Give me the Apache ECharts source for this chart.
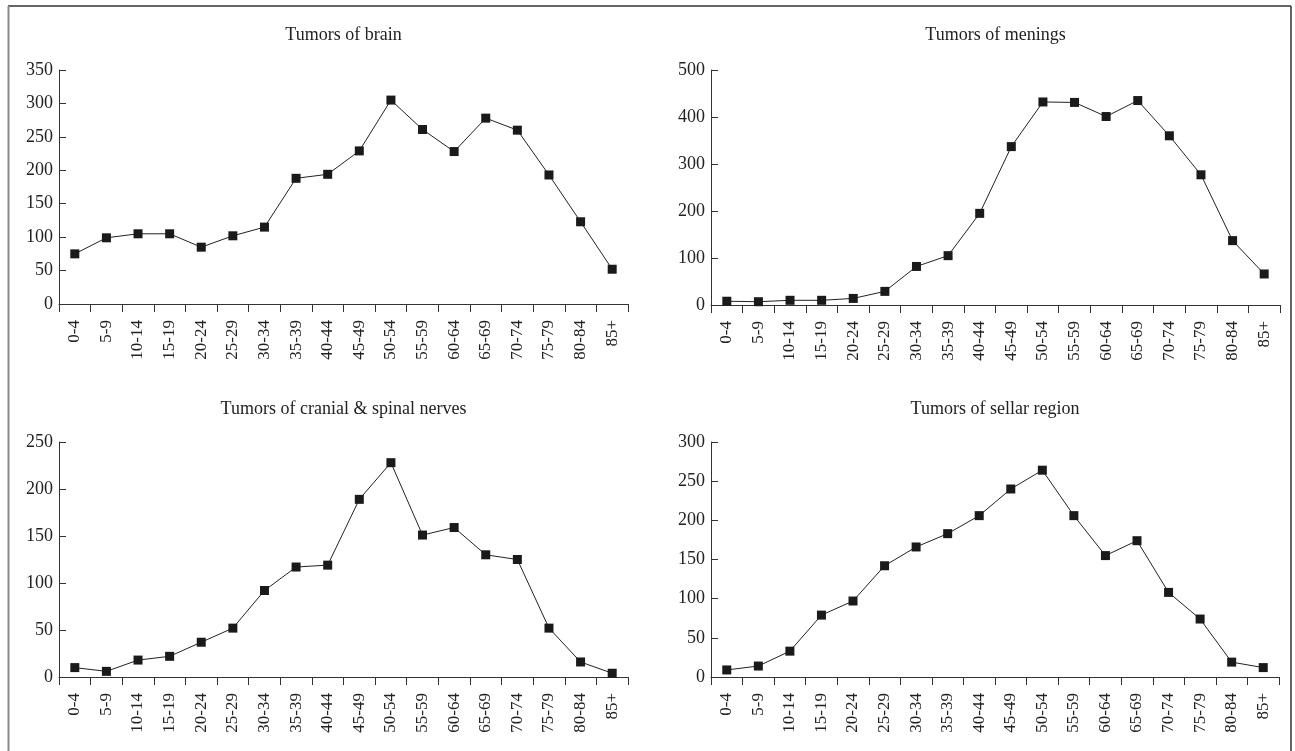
<!DOCTYPE html>
<html>
<head>
<meta charset="utf-8">
<script src="https://cdn.jsdelivr.net/npm/echarts@6/dist/echarts.min.js"></script>
<style>
html,body{margin:0;padding:0;background:#fff;}
#chart{width:1295px;height:751px;}
</style>
</head>
<body>
<div id="chart"></div>
<script>
const ageGroups = ['0-4','5-9','10-14','15-19','20-24','25-29','30-34','35-39','40-44','45-49','50-54','55-59','60-64','65-69','70-74','75-79','80-84','85+'];
const brainValues = [75, 99, 105, 105, 85, 102, 115, 188, 194, 229, 305, 261, 228, 278, 260, 193, 123, 52];
const meningesValues = [8, 7, 10, 10, 14, 29, 82, 105, 195, 337, 432, 431, 401, 435, 360, 277, 137, 66];
const nervesValues = [10, 6, 18, 22, 37, 52, 92, 117, 119, 189, 228, 151, 159, 130, 125, 52, 16, 4];
const sellarValues = [9, 14, 33, 79, 97, 142, 166, 183, 206, 240, 264, 206, 155, 174, 108, 74, 19, 12];
const panelTitles = ['Tumors of brain', 'Tumors of menings', 'Tumors of cranial & spinal nerves', 'Tumors of sellar region'];
const yMax = [350, 500, 250, 300];
const yStep = [50, 100, 50, 50];
const panelData = [brainValues, meningesValues, nervesValues, sellarValues];

const FONT = '"Liberation Serif", "DejaVu Serif", serif';
const INK = '#222';
const grids = [
  {left: 59, top: 70, width: 569, height: 234},
  {left: 711, top: 70, width: 569, height: 235},
  {left: 59, top: 442, width: 569, height: 235},
  {left: 711, top: 442, width: 568, height: 235}
];
const titleTops = [26, 26, 400, 400];

const chart = echarts.init(document.getElementById('chart'), null, {renderer: 'canvas'});
const option = {
  backgroundColor: '#fff',
  animation: false,
  title: panelTitles.map((t, i) => ({
    text: t,
    left: grids[i].left + grids[i].width / 2,
    top: titleTops[i],
    textAlign: 'center',
    padding: 0,
    textStyle: {fontFamily: FONT, fontWeight: 'normal', fontSize: 18, color: INK}
  })),
  grid: grids.map(g => Object.assign({containLabel: false}, g)),
  xAxis: grids.map((g, i) => ({
    type: 'category',
    gridIndex: i,
    data: ageGroups,
    boundaryGap: true,
    axisLine: {lineStyle: {color: '#333', width: 1}},
    axisTick: {show: true, interval: 0, length: 8, lineStyle: {color: '#333'}},
    axisLabel: {interval: 0, rotate: 90, margin: 16, fontFamily: FONT, fontSize: 17, color: INK},
    splitLine: {show: false}
  })),
  yAxis: grids.map((g, i) => ({
    type: 'value',
    gridIndex: i,
    min: 0,
    max: yMax[i],
    interval: yStep[i],
    axisLine: {show: true, lineStyle: {color: '#333', width: 1}},
    axisTick: {show: true, inside: true, length: 7, lineStyle: {color: '#333'}},
    axisLabel: {margin: 6, fontFamily: FONT, fontSize: 18, color: INK},
    splitLine: {show: false}
  })),
  series: panelData.map((d, i) => ({
    type: 'line',
    xAxisIndex: i,
    yAxisIndex: i,
    data: d,
    symbol: 'rect',
    symbolSize: 9,
    showAllSymbol: true,
    lineStyle: {color: '#222', width: 1},
    itemStyle: {color: '#1a1a1a', borderWidth: 0}
  })),
  graphic: [
    {type: 'line', shape: {x1: 8, y1: 6, x2: 1291, y2: 6}, style: {stroke: '#333', lineWidth: 1.5}, silent: true},
    {type: 'line', shape: {x1: 1291, y1: 6, x2: 1291, y2: 760}, style: {stroke: '#333', lineWidth: 1.5}, silent: true},
    {type: 'line', shape: {x1: 8.5, y1: 6, x2: 8.5, y2: 760}, style: {stroke: '#888', lineWidth: 2}, silent: true}
  ]
};
chart.setOption(option);
</script>
</body>
</html>
